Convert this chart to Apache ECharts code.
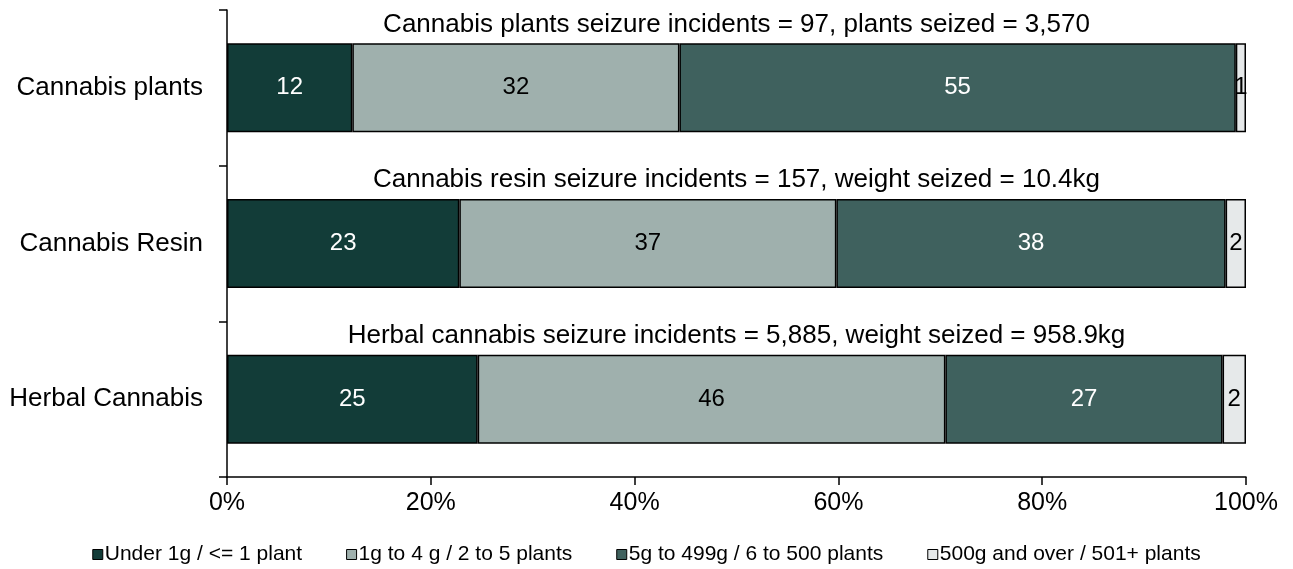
<!DOCTYPE html>
<html>
<head>
<meta charset="utf-8">
<script src="https://cdn.jsdelivr.net/npm/echarts@6/dist/echarts.min.js"></script>
<style>
  html, body { margin: 0; padding: 0; background: #fff; }
  #chart { width: 1293px; height: 569px; }
</style>
</head>
<body>
<div id="chart"></div>
<script>
// categories, top to bottom
var categories = ['Cannabis plants', 'Cannabis Resin', 'Herbal Cannabis'];
var seriesNames = ['Under 1g / <= 1 plant', '1g to 4 g / 2 to 5 plants', '5g to 499g / 6 to 500 plants', '500g and over / 501+ plants'];
// percentage shares
var under1 = [12.3, 22.8, 24.6];
var from1to4 = [32.1, 37.0, 45.9];
var from5to499 = [54.6, 38.2, 27.2];
var over500 = [1.0, 2.0, 2.3];
// rounded labels shown on the bars
var labels = [
    [12, 23, 25],
    [32, 37, 46],
    [55, 38, 27],
    [1, 2, 2]
];
var headings = [
    'Cannabis plants seizure incidents = 97, plants seized = 3,570',
    'Cannabis resin seizure incidents = 157, weight seized = 10.4kg',
    'Herbal cannabis seizure incidents = 5,885, weight seized = 958.9kg'
];
var xTicks = [0, 20, 40, 60, 80, 100];

var colors = ['#123c38', '#9fb0ad', '#3f615e', '#e6e9ea'];
var labelColors = ['#fff', '#000', '#fff', '#000'];
var values = [under1, from1to4, from5to499, over500];
var font = 'Liberation Sans, Arial';

var chart = echarts.init(document.getElementById('chart'));

var series = values.map(function (v, i) {
    return {
        name: seriesNames[i],
        type: 'bar',
        stack: 'total',
        barWidth: 89,
        data: v,
        itemStyle: {
            color: colors[i],
            borderColor: '#000',
            borderWidth: 1.5
        },
        label: {
            show: true,
            position: 'inside',
            color: labelColors[i],
            fontFamily: font,
            fontSize: 24,
            formatter: function (p) { return labels[i][p.dataIndex]; }
        }
    };
});

// transparent overlay to carry the heading above each bar
series.push({
    name: 'heading',
    type: 'bar',
    barWidth: 89,
    barGap: '-100%',
    silent: true,
    z: 1,
    data: categories.map(function () { return 100; }),
    itemStyle: { color: 'rgba(0,0,0,0)' },
    label: {
        show: true,
        position: 'top',
        distance: 6,
        color: '#000',
        fontFamily: font,
        fontSize: 26,
        formatter: function (p) { return headings[p.dataIndex]; }
    }
});

var option = {
    animation: false,
    backgroundColor: '#fff',
    grid: {
        left: 227,
        right: 47,
        top: 10,
        bottom: 92,
        containLabel: false
    },
    legend: {
        data: seriesNames,
        top: 539,
        left: 'center',
        itemWidth: 10,
        itemHeight: 10,
        itemGap: 44,
        icon: 'rect',
        itemStyle: { borderColor: '#000', borderWidth: 1 },
        textStyle: {
            fontFamily: font,
            fontSize: 21,
            color: '#000',
            padding: [0, 0, 0, -3]
        }
    },
    xAxis: {
        type: 'value',
        min: xTicks[0],
        max: xTicks[xTicks.length - 1],
        interval: 20,
        splitLine: { show: false },
        axisLine: { show: true, lineStyle: { color: '#000', width: 1.5 } },
        axisTick: { show: true, length: 8, lineStyle: { color: '#000', width: 1.5 } },
        axisLabel: {
            formatter: '{value}%',
            color: '#000',
            fontFamily: font,
            fontSize: 25,
            margin: 14
        }
    },
    yAxis: {
        type: 'category',
        data: categories,
        inverse: true,
        axisLine: { show: true, lineStyle: { color: '#000', width: 1.5 } },
        axisTick: { show: true, length: 8, alignWithLabel: false, lineStyle: { color: '#000', width: 1.5 } },
        axisLabel: {
            color: '#000',
            fontFamily: font,
            fontSize: 26,
            margin: 24
        }
    },
    series: series
};

chart.setOption(option);
</script>
</body>
</html>
